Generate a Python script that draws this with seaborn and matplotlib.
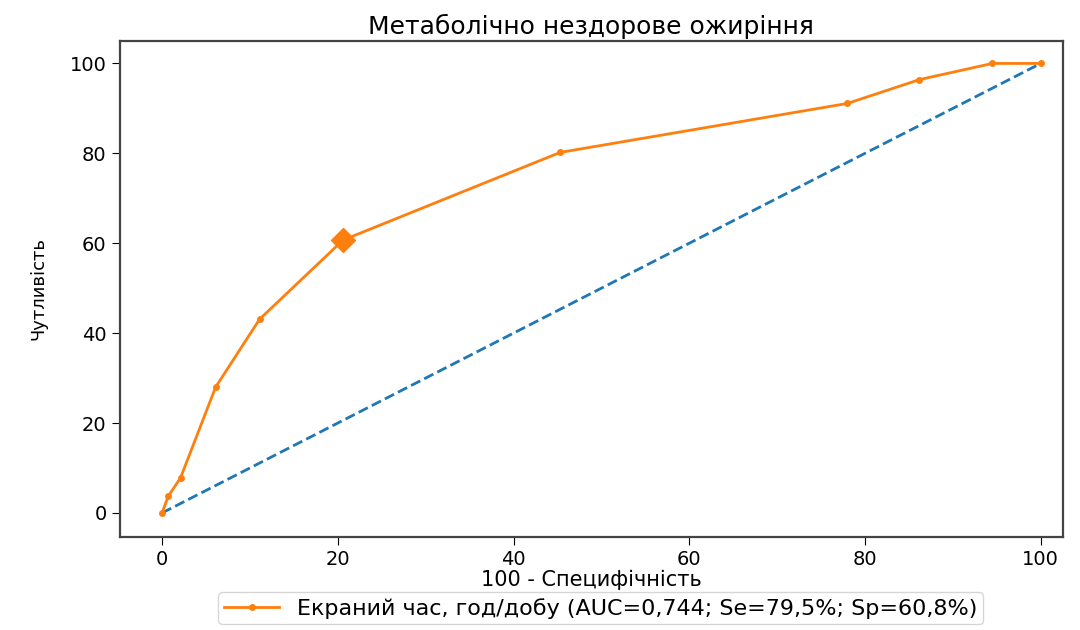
import pandas as pd
import matplotlib
matplotlib.use('Agg')
import matplotlib.pyplot as plt
import seaborn as sns

# ROC points
fpr = [0, 0.7, 2.1, 6.1, 11.1, 20.6, 45.3, 78.0, 86.2, 94.5, 100]
tpr = [0, 3.7, 7.8, 28.0, 43.1, 60.7, 80.2, 91.1, 96.4, 100, 100]
cut_x = [20.6]
cut_y = [60.7]
diag = [0, 100]

label = 'Екраний час, год/добу (AUC=0,744; Se=79,5%; Sp=60,8%)'

df = pd.DataFrame({'fpr': fpr, 'tpr': tpr})

plt.rcParams['font.family'] = ['DejaVu Sans']

fig = plt.figure(figsize=(10.8, 6.3), dpi=100)
ax = fig.add_axes([0.111, 0.148, 0.873, 0.787])

sns.lineplot(x=diag, y=diag, ax=ax, color='#1f77b4', linestyle='--', linewidth=2)
sns.lineplot(data=df, x='fpr', y='tpr', ax=ax, color='#ff7f0e', linewidth=2,
             marker='o', markersize=5, markeredgewidth=0, label=label, sort=False)
ax.plot(cut_x, cut_y, marker='D', color='#ff7f0e', markersize=12, linestyle='none')

ax.set_xlim(-4.8, 102.5)
ax.set_ylim(-5.3, 105)
ax.set_xticks([0, 20, 40, 60, 80, 100])
ax.set_yticks([0, 20, 40, 60, 80, 100])
ax.tick_params(labelsize=14, length=6)
for s in ax.spines.values():
    s.set_color('#444444')
    s.set_linewidth(1.6)
ax.set_title('Метаболічно нездорове ожиріння', fontsize=18, pad=5)
ax.set_xlabel('100 - Специфічність', fontsize=15, labelpad=1)
ax.set_ylabel('Чутливість', fontsize=13, labelpad=16)
ax.legend(loc='upper center', bbox_to_anchor=(0.51, -0.112), fontsize=16,
          frameon=True, borderaxespad=0, handlelength=2.5, borderpad=0.25)

plt.savefig('out.png')
